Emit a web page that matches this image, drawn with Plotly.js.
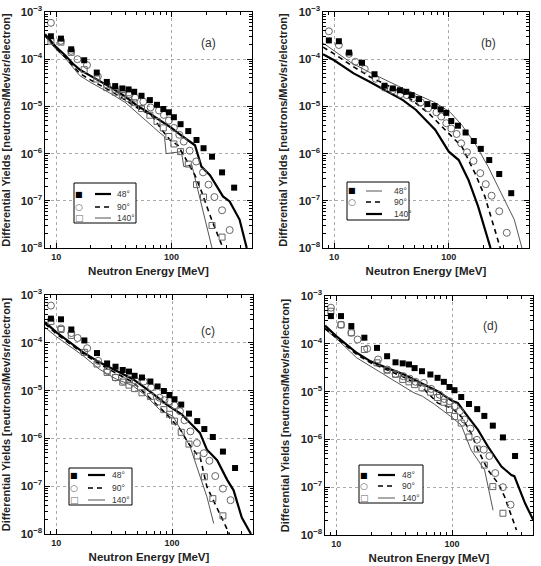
<!DOCTYPE html>
<html><head><meta charset="utf-8">
<script src="https://cdn.plot.ly/plotly-3.0.1.min.js"></script>
<style>body{margin:0;background:#fff}#chart{width:541px;height:566px}</style>
</head><body><div id="chart"></div><script>
// ---------- DATA ----------
const E_sq = [9, 11, 13.5, 17.5, 22.5, 27.5, 32.5, 37.5, 42.5, 47.5, 55, 65, 75, 85, 95, 105, 120, 140, 165, 190, 225, 275, 350];
const E_ci = [9, 11, 13.5, 15.3, 18.5, 23, 27.5, 32.5, 38, 43, 48.5, 57, 66, 78, 86, 95, 105, 117, 128, 144, 164, 188, 210, 236, 275, 320];
const E_os = [9, 11, 13.5, 17.5, 22.5, 27.5, 32.5, 37.5, 42.5, 47.5, 55, 65, 75, 85, 95, 105, 120, 140, 165, 190, 225, 275];

// panel (a)
const a_sq48 = [3.06e-4, 2.73e-4, 1.62e-4, 9.5e-5, 5.2e-5, 3.3e-5, 2.69e-5, 2.4e-5, 2.29e-5, 2.04e-5, 1.68e-5, 1.36e-5, 1.08e-5, 8.8e-6, 7.5e-6, 5.9e-6, 4.2e-6, 3.0e-6, 1.94e-6, 1.3e-6, 8.6e-7, 4.0e-7, 1.9e-7];
const a_ci90 = [5.9e-4, 2.45e-4, 1.5e-4, 1.0e-4, 7.5e-5, 4.3e-5, 2.9e-5, 2.3e-5, 1.9e-5, 1.8e-5, 1.52e-5, 1.26e-5, 9.5e-6, 8.2e-6, 6.6e-6, 5.0e-6, 3.5e-6, 2.5e-6, 1.8e-6, 1.15e-6, 6.8e-7, 4.0e-7, 2.2e-7, 1.2e-7, 6.3e-8, 2.4e-8];
const a_os140 = [2.4e-4, 2.3e-4, 1.4e-4, 6e-5, 3.8e-5, 2.5e-5, 2.0e-5, 1.7e-5, 1.45e-5, 1.2e-5, 9e-6, 6.5e-6, 4.8e-6, 3.5e-6, 2.3e-6, 1.6e-6, 1.1e-6, 6e-7, 2.2e-7, 1.2e-7, 3e-8, 1.7e-8];
const a_l48E = [8, 10, 12, 14, 16, 20, 25, 30, 40, 50, 60, 70, 80, 90, 100, 120, 145, 160, 182, 216, 280, 320, 390, 450];
const a_l48Y = [3.4e-4, 1.8e-4, 1.2e-4, 8e-5, 6e-5, 4.4e-5, 3.3e-5, 2.5e-5, 1.6e-5, 1.05e-5, 8e-6, 6.3e-6, 5e-6, 4.2e-6, 3.5e-6, 2.5e-6, 1.8e-6, 1.5e-6, 5.3e-7, 3.5e-7, 1.24e-7, 9.7e-8, 4e-8, 1e-8];
const a_l90E = [8, 10, 12, 14, 16, 20, 25, 30, 40, 50, 60, 69, 79, 97, 114, 135, 160, 182, 202, 223, 280];
const a_l90Y = [3.2e-4, 1.7e-4, 1.1e-4, 7e-5, 5e-5, 3.6e-5, 2.7e-5, 2.1e-5, 1.35e-5, 9.5e-6, 7.5e-6, 6.0e-6, 3.7e-6, 1.94e-6, 1.5e-6, 7.3e-7, 3.5e-7, 1.6e-7, 7.6e-8, 4e-8, 1e-8];
const a_l140E = [8, 10, 12, 14, 16, 20, 25, 30, 40, 50, 60, 70, 80, 87, 90, 122, 128, 150, 225];
const a_l140Y = [3.0e-4, 1.6e-4, 1.05e-4, 6.5e-5, 4.5e-5, 3.2e-5, 2.4e-5, 1.85e-5, 1.2e-5, 7.5e-6, 5.2e-6, 3.6e-6, 2.7e-6, 2.3e-6, 1.0e-6, 1.1e-6, 5.3e-7, 5.8e-7, 1e-8];

// panel (b)
const b_sq48 = [2.5e-4, 2.4e-4, 1.38e-4, 8.4e-5, 4.8e-5, 2.74e-5, 2.4e-5, 2.2e-5, 2.04e-5, 1.73e-5, 1.43e-5, 1.12e-5, 1.02e-5, 8.6e-6, 7.3e-6, 4.9e-6, 3.9e-6, 2.8e-6, 1.85e-6, 1.26e-6, 7.3e-7, 3.7e-7, 1.45e-7];
const b_ci90 = [3.9e-4, 2.0e-4, 1.3e-4, 8.8e-5, 6.2e-5, 3.85e-5, 2.5e-5, 2.2e-5, 1.82e-5, 1.73e-5, 1.48e-5, 1.22e-5, 9.1e-6, 7.5e-6, 6.1e-6, 4.4e-6, 3.4e-6, 2.6e-6, 1.65e-6, 1.07e-6, 7e-7, 3.85e-7, 2.25e-7, 1.28e-7, 6e-8, 2.1e-8];
const b_l48E = [8, 10, 14, 20.6, 30, 40, 55, 76, 103, 130, 169, 220, 286, 372, 434];
const b_l48Y = [2.2e-4, 1.5e-4, 8.5e-5, 5.2e-5, 3.3e-5, 2.4e-5, 1.7e-5, 1.2e-5, 7.5e-6, 4e-6, 1.65e-6, 5.3e-7, 1.45e-7, 4e-8, 1e-8];
const b_l90E = [8, 10, 14, 20.6, 30, 40, 67, 100, 130, 169, 206, 281];
const b_l90Y = [1.8e-4, 1.3e-4, 7.5e-5, 4.2e-5, 2.7e-5, 1.9e-5, 7.1e-6, 2.7e-6, 1.4e-6, 3.85e-7, 1.24e-7, 1e-8];
const b_l140E = [8, 10, 14.8, 20.6, 39.8, 51.8, 67, 76, 100, 122, 148, 180, 231];
const b_l140Y = [1.28e-4, 9.5e-5, 5e-5, 3.3e-5, 1.36e-5, 8.4e-6, 4.4e-6, 3.2e-6, 1.1e-6, 7.3e-7, 2.8e-7, 7.6e-8, 1e-8];

// panel (c)
const c_sq48 = [3.2e-4, 3.1e-4, 1.9e-4, 1.12e-4, 6.1e-5, 3.7e-5, 3.16e-5, 2.7e-5, 2.5e-5, 2.04e-5, 1.88e-5, 1.55e-5, 1.22e-5, 9.8e-6, 8.1e-6, 6.6e-6, 5.1e-6, 3.3e-6, 2.3e-6, 1.57e-6, 1.07e-6, 5.3e-7, 2.4e-7];
const c_ci90 = [6e-4, 2.0e-4, 1.6e-4, 1.26e-4, 7.7e-5, 4.2e-5, 2.6e-5, 1.88e-5, 1.6e-5, 1.7e-5, 1.6e-5, 1.55e-5, 1.16e-5, 7.1e-6, 6.3e-6, 6.0e-6, 4.9e-6, 3.7e-6, 2.4e-6, 1.4e-6, 8e-7, 4.9e-7, 3.4e-7, 1.63e-7, 8.9e-8, 5.1e-8];
const c_os140 = [2.8e-4, 1.9e-4, 1.43e-4, 6.3e-5, 3.6e-5, 2.4e-5, 1.88e-5, 1.5e-5, 1.3e-5, 1.1e-5, 9e-6, 7.5e-6, 5.8e-6, 4e-6, 3.2e-6, 2.3e-6, 1.34e-6, 7.6e-7, 4.3e-7, 1.57e-7, 5.5e-8, 2.4e-8];
const c_l48E = [8, 10, 17, 23.6, 33, 46, 64, 90, 121, 154, 174, 200, 245, 300, 340, 400, 480];
const c_l48Y = [2.7e-4, 1.68e-4, 6.4e-5, 3.9e-5, 2.6e-5, 1.73e-5, 9.8e-6, 5.1e-6, 3.2e-6, 1.8e-6, 1.3e-6, 5.8e-7, 3.5e-7, 1.34e-7, 8.2e-8, 2.2e-8, 1e-8];
const c_l90E = [8, 10, 17, 23.6, 33, 46, 64, 90, 118, 138, 160, 175, 200, 260, 313];
const c_l90Y = [2.5e-4, 1.55e-4, 6e-5, 3.6e-5, 2.3e-5, 1.5e-5, 7.1e-6, 3.2e-6, 1.52e-6, 8e-7, 5e-7, 4e-7, 9.7e-8, 2.65e-8, 1e-8];
const c_l140E = [8, 10, 17, 23.6, 33, 46, 60, 78, 102, 121, 143, 175, 200, 229];
const c_l140Y = [2.1e-4, 1.35e-4, 5.4e-5, 2.8e-5, 1.74e-5, 1.26e-5, 7.7e-6, 4e-6, 2.9e-6, 1.4e-6, 6.8e-7, 1.57e-7, 6e-8, 1.66e-8];

// panel (d)
const d_sq48 = [3.8e-4, 3.8e-4, 2.35e-4, 1.34e-4, 8.2e-5, 5.5e-5, 4.1e-5, 3.9e-5, 3.7e-5, 3.1e-5, 2.67e-5, 2.28e-5, 1.94e-5, 1.6e-5, 1.25e-5, 1.07e-5, 7.7e-6, 5.5e-6, 4.3e-6, 3.1e-6, 1.94e-6, 1.1e-6, 4.5e-7];
const d_ci90 = [5.7e-4, 2.5e-4, 1.7e-4, 1.23e-4, 7.9e-5, 4.7e-5, 2.9e-5, 2.35e-5, 2.1e-5, 1.87e-5, 1.6e-5, 1.52e-5, 1.14e-5, 8.6e-6, 7e-6, 6.3e-6, 4.9e-6, 3.9e-6, 2.6e-6, 1.68e-6, 9.8e-7, 6.1e-7, 4.5e-7, 1.97e-7, 1e-7, 4.3e-8];
const d_os140 = [4.8e-4, 2.5e-4, 1.7e-4, 7.6e-5, 4e-5, 2.8e-5, 2.3e-5, 1.8e-5, 1.6e-5, 1.4e-5, 1.2e-5, 9.7e-6, 7.5e-6, 6e-6, 4.2e-6, 3.0e-6, 2.2e-6, 1.12e-6, 6.3e-7, 2.9e-7, 1.03e-7, 2.85e-8];
const d_l48E = [8, 10, 15, 19.8, 27.6, 38.5, 53.7, 75, 100, 112, 137, 167, 204, 267, 325, 345, 427, 505];
const d_l48Y = [2.4e-4, 1.45e-4, 6.5e-5, 4.3e-5, 3.1e-5, 2.28e-5, 1.52e-5, 1.02e-5, 6.4e-6, 5.8e-6, 3e-6, 1.6e-6, 7.1e-7, 2.7e-7, 1.8e-7, 1.7e-7, 4.6e-8, 2e-8];
const d_l90E = [8, 10, 15, 19.8, 27.6, 38.5, 54, 75, 100, 120, 146, 167, 204, 250, 284, 360];
const d_l90Y = [2.1e-4, 1.35e-4, 6e-5, 4e-5, 2.8e-5, 2e-5, 1.3e-5, 5.8e-6, 4.5e-6, 3e-6, 1.36e-6, 6.1e-7, 2.3e-7, 1.2e-7, 6.4e-8, 1.27e-8];
const d_l140E = [8, 10, 15, 27.6, 47, 55.5, 70, 97.8, 120, 146, 191, 226];
const d_l140Y = [2e-4, 1.3e-4, 5.1e-5, 2.1e-5, 9.4e-6, 8e-6, 5.5e-6, 3e-6, 2e-6, 6e-7, 2.3e-7, 3.3e-8];

const panelLabels = ['(a)', '(b)', '(c)', '(d)'];
const angleLabels = ['48°', '90°', '140°'];
const xTitle = 'Neutron Energy [MeV]';
const yTitle = 'Differential Yields [neutrons/Mev/sr/electron]';

// ---------- STYLES ----------
const W = 541, H = 566;
const FONT = 'Liberation Sans, Arial, sans-serif';
const thick = {color: '#000', width: 2.2};
const dashed = {color: '#000', width: 1.6, dash: '5px,4px'};
const thin = {color: '#555', width: 1};
const mSq = {symbol: 'square', size: 6, color: '#000'};
const mCi = {symbol: 'circle-open', size: 7, color: '#666', line: {width: 1, color: '#666'}};
const mOs = {symbol: 'square-open', size: 6, color: '#666', line: {width: 1, color: '#666'}};

// pixel boxes of the four plot areas [left, right, top, bottom]
const boxes = [[45, 252, 12, 248], [323, 529, 12, 248], [45, 253, 295, 534], [325, 533, 296, 535]];

const traces = [];
function line(E, Y, st, k) { traces.push({x: E, y: Y, mode: 'lines', line: st, xaxis: 'x' + (k ? k + 1 : ''), yaxis: 'y' + (k ? k + 1 : ''), hoverinfo: 'skip'}); }
function pts(E, Y, m, k) { traces.push({x: E, y: Y, mode: 'markers', marker: m, xaxis: 'x' + (k ? k + 1 : ''), yaxis: 'y' + (k ? k + 1 : ''), cliponaxis: true}); }

// (a)
line(a_l140E, a_l140Y, thin, 0); line(a_l90E, a_l90Y, dashed, 0); line(a_l48E, a_l48Y, thick, 0);
pts(E_os, a_os140, mOs, 0); pts(E_ci, a_ci90, mCi, 0); pts(E_sq, a_sq48, mSq, 0);
// (b)
line(b_l48E, b_l48Y, thin, 1); line(b_l90E, b_l90Y, dashed, 1); line(b_l140E, b_l140Y, thick, 1);
pts(E_ci, b_ci90, mCi, 1); pts(E_sq, b_sq48, mSq, 1);
// (c)
line(c_l140E, c_l140Y, thin, 2); line(c_l90E, c_l90Y, dashed, 2); line(c_l48E, c_l48Y, thick, 2);
pts(E_os, c_os140, mOs, 2); pts(E_ci, c_ci90, mCi, 2); pts(E_sq, c_sq48, mSq, 2);
// (d)
line(d_l140E, d_l140Y, thin, 3); line(d_l90E, d_l90Y, dashed, 3); line(d_l48E, d_l48Y, thick, 3);
pts(E_os, d_os140, mOs, 3); pts(E_ci, d_ci90, mCi, 3); pts(E_sq, d_sq48, mSq, 3);

const layout = {
  width: W, height: H, margin: {l: 0, r: 0, t: 0, b: 0},
  paper_bgcolor: '#fff', plot_bgcolor: '#fff', showlegend: false,
  font: {family: FONT, color: '#222'},
  shapes: [], annotations: []
};

function px(x) { return x / W; }
function py(y) { return 1 - y / H; }

boxes.forEach((b, k) => {
  const s = k ? String(k + 1) : '';
  layout['xaxis' + s] = {
    type: 'log', range: [Math.log10(8), Math.log10(500)], domain: [px(b[0]), px(b[1])], anchor: 'y' + s,
    dtick: 1, showline: true, linecolor: '#000', linewidth: 1, mirror: 'ticks',
    ticks: 'inside', ticklen: 5, tickcolor: '#000', tickwidth: 1,
    showgrid: true, gridcolor: '#aaa', griddash: 'dot', gridwidth: 1, zeroline: false,
    tickfont: {family: FONT, size: 9, color: '#222', weight: 'bold'},
    minor: {ticks: 'inside', ticklen: 3, dtick: 'D1', showgrid: false, tickcolor: '#000'},
    title: {text: xTitle, font: {family: FONT, size: 11.5, color: '#222', weight: 'bold'}, standoff: 6}
  };
  layout['yaxis' + s] = {
    type: 'log', range: [-8, -3], domain: [py(b[3]), py(b[2])], anchor: 'x' + s,
    dtick: 1, exponentformat: 'power', showline: true, linecolor: '#000', linewidth: 1, mirror: 'ticks',
    ticks: 'inside', ticklen: 5, tickcolor: '#000', tickwidth: 1,
    showgrid: true, gridcolor: '#aaa', griddash: 'dot', gridwidth: 1, zeroline: false,
    tickfont: {family: FONT, size: 9, color: '#222', weight: 'bold'},
    minor: {ticks: 'inside', ticklen: 3, dtick: 'D1', showgrid: false, tickcolor: '#000'},
    title: {text: yTitle, font: {family: FONT, size: 11, color: '#222', weight: 'bold'}, standoff: 8}
  };
});

// panel labels
const labelPos = [[208, 43], [488, 43], [208, 331], [490, 326]];
labelPos.forEach((p, k) => layout.annotations.push({xref: 'paper', yref: 'paper', x: px(p[0]), y: py(p[1]), text: panelLabels[k], showarrow: false, font: {family: FONT, size: 12, color: '#333'}, xanchor: 'center', yanchor: 'middle'}));

// legends
const legends = [
  {box: [74, 136, 183, 223], mx: 79, l0: 95, l1: 111, tx: 115, rows: [194, 207, 218], styles: [thick, dashed, thin], marks: ['■', '○', '□']},
  {box: [347, 409, 182, 220], mx: 352, l0: 366, l1: 382, tx: 392, rows: [191, 202, 214], styles: [thin, dashed, thick], marks: ['■', '○', '']},
  {box: [69, 132, 468, 505], mx: 74, l0: 88, l1: 105, tx: 110, rows: [475, 488, 500], styles: [thick, dashed, thin], marks: ['■', '○', '□']},
  {box: [359, 423, 465, 503], mx: 364, l0: 378, l1: 395, tx: 400, rows: [475, 486, 498], styles: [thick, dashed, thin], marks: ['■', '○', '□']}
];
legends.forEach(L => {
  layout.shapes.push({type: 'rect', xref: 'paper', yref: 'paper', x0: px(L.box[0]), x1: px(L.box[1]), y0: py(L.box[3]), y1: py(L.box[2]), line: {color: '#000', width: 1}, fillcolor: '#fff', layer: 'above'});
  L.rows.forEach((ry, i) => {
    const st = L.styles[i];
    layout.shapes.push({type: 'line', xref: 'paper', yref: 'paper', x0: px(L.l0), x1: px(L.l1), y0: py(ry), y1: py(ry), line: {color: st.color, width: st.width, dash: st.dash || 'solid'}, layer: 'above'});
    if (L.marks[i]) layout.annotations.push({xref: 'paper', yref: 'paper', x: px(L.mx), y: py(ry), text: L.marks[i], showarrow: false, xanchor: 'center', yanchor: 'middle', font: {family: 'DejaVu Sans', size: i === 0 ? 8 : 9, color: i === 0 ? '#000' : '#666'}});
    layout.annotations.push({xref: 'paper', yref: 'paper', x: px(L.tx), y: py(ry), text: angleLabels[i], showarrow: false, xanchor: 'left', yanchor: 'middle', font: {family: FONT, size: 8.5, color: '#333'}});
  });
});

Plotly.newPlot('chart', traces, layout, {staticPlot: true, displayModeBar: false});
</script></body></html>
